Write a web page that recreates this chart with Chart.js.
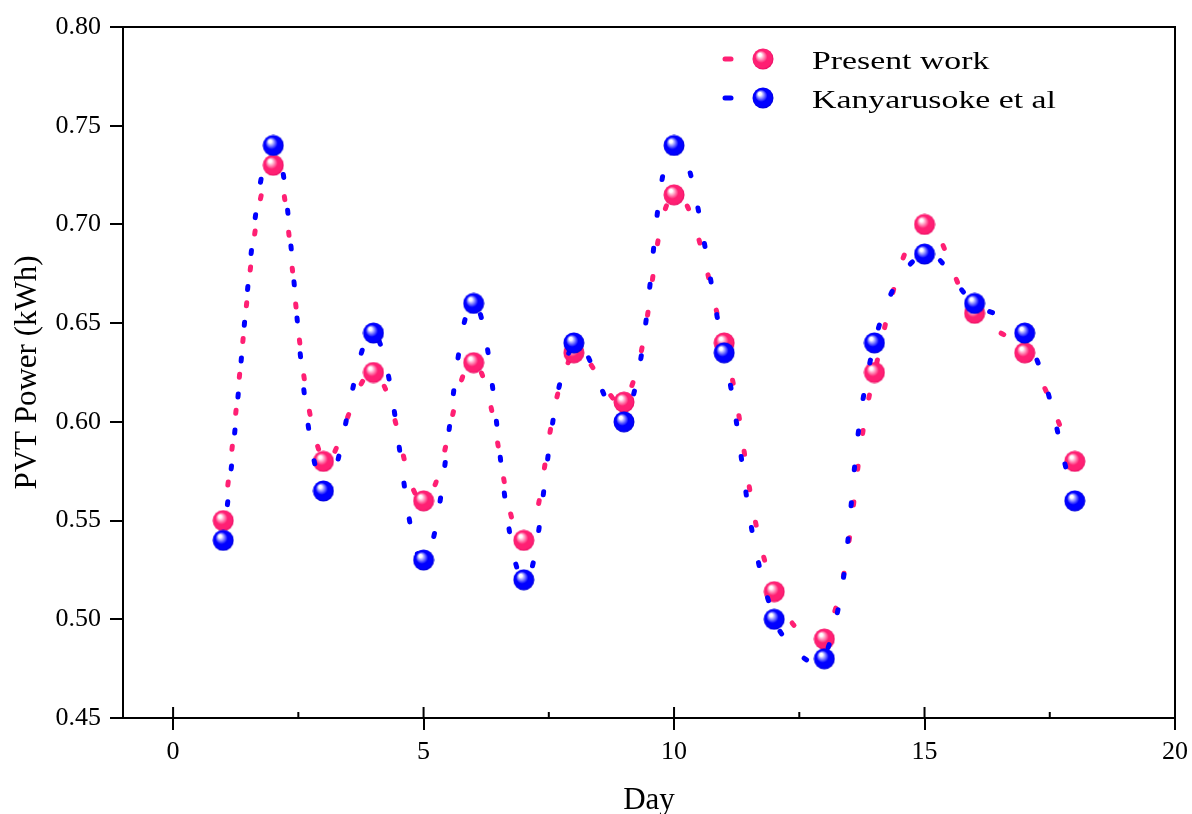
<!DOCTYPE html>
<html>
<head>
<meta charset="utf-8">
<script src="https://cdn.jsdelivr.net/npm/chart.js@4.4.1/dist/chart.umd.min.js"></script>
<style>
  html, body { margin: 0; padding: 0; background: #fff; }
  #wrap { width: 1192px; height: 814px; }
</style>
</head>
<body>
<div id="wrap"><canvas id="pvtChart" width="1192" height="814"></canvas></div>
<script>
// Daily PVT power, present work vs. Kanyarusoke et al
const days = [1, 2, 3, 4, 5, 6, 7, 8, 9, 10, 11, 12, 13, 14, 15, 16, 17, 18];
const presentWork = [0.55, 0.73, 0.58, 0.625, 0.56, 0.63, 0.54, 0.635, 0.61, 0.715, 0.64, 0.514, 0.49, 0.625, 0.70, 0.655, 0.635, 0.58];
const kanyarusoke = [0.54, 0.74, 0.565, 0.645, 0.53, 0.66, 0.52, 0.64, 0.60, 0.74, 0.635, 0.50, 0.48, 0.64, 0.685, 0.66, 0.645, 0.56];
const seriesNames = ["Present work", "Kanyarusoke et al"];

const xTicks = [0, 5, 10, 15, 20];
const xMinorTicks = [2.5, 7.5, 12.5, 17.5];
const yTicks = [0.45, 0.50, 0.55, 0.60, 0.65, 0.70, 0.75, 0.80];

const pink = "#ff1f73";
const blue = "#0000ff";
const serif = "'Liberation Serif', 'Times New Roman', serif";

// shaded ball marker
function makeBall(base, light, dark, size) {
  const c = document.createElement("canvas");
  c.width = size;
  c.height = size;
  const g = c.getContext("2d");
  const r = size / 2;
  const grad = g.createRadialGradient(r * 0.66, r * 0.56, 0, r, r, r);
  grad.addColorStop(0, "#ffffff");
  grad.addColorStop(0.14, "#ffffff");
  grad.addColorStop(0.32, light);
  grad.addColorStop(0.55, base);
  grad.addColorStop(0.85, base);
  grad.addColorStop(1, dark);
  g.fillStyle = grad;
  g.beginPath();
  g.arc(r, r, r - 0.5, 0, Math.PI * 2);
  g.fill();
  return c;
}

const pinkBall = makeBall(pink, "#ff9ac0", "#e0065e", 22);
const blueBall = makeBall(blue, "#8c8cff", "#0000c8", 22);

function toPoints(values) {
  return days.map((d, i) => ({ x: d, y: values[i] }));
}

// top/right frame and the inner parts of the x ticks
const framePlugin = {
  id: "frame",
  afterDraw(chart) {
    const { ctx, chartArea: a, scales: { x } } = chart;
    ctx.save();
    ctx.strokeStyle = "#000";
    ctx.lineWidth = 2;
    ctx.beginPath();
    ctx.moveTo(a.left, a.top);
    ctx.lineTo(a.right, a.top);
    ctx.lineTo(a.right, a.bottom);
    xTicks.forEach(v => {
      const px = x.getPixelForValue(v);
      ctx.moveTo(px, a.bottom);
      ctx.lineTo(px, a.bottom - 11);
    });
    xMinorTicks.forEach(v => {
      const px = x.getPixelForValue(v);
      ctx.moveTo(px, a.bottom);
      ctx.lineTo(px, a.bottom - 6);
    });
    ctx.stroke();
    ctx.restore();
  }
};

// legend: short dash + ball + wide serif label
const legendPlugin = {
  id: "ballLegend",
  afterDraw(chart) {
    const ctx = chart.ctx;
    const rows = [59, 98];
    chart.data.datasets.forEach((ds, i) => {
      const y = rows[i];
      ctx.save();
      ctx.strokeStyle = ds.borderColor;
      ctx.lineWidth = 5;
      ctx.lineCap = "round";
      ctx.beginPath();
      ctx.moveTo(725, y);
      ctx.lineTo(731, y);
      ctx.stroke();
      const img = ds.pointStyle;
      ctx.drawImage(img, 763 - img.width / 2, y - img.height / 2);
      ctx.translate(812, y + 10);
      ctx.scale(1.3, 1);
      ctx.font = "26px " + serif;
      ctx.fillStyle = "#000";
      ctx.textBaseline = "alphabetic";
      ctx.fillText(ds.label, 0, 0);
      ctx.restore();
    });
  }
};

const ctx = document.getElementById("pvtChart").getContext("2d");

const pvtChart = new Chart(ctx, {
  type: "line",
  data: {
    datasets: [
      {
        label: seriesNames[0],
        data: toPoints(presentWork),
        borderColor: pink,
        backgroundColor: pink,
        borderWidth: 5,
        borderDash: [3, 33],
        borderCapStyle: "round",
        tension: 0.4,
        pointStyle: pinkBall,
        pointRadius: 11,
        order: 1
      },
      {
        label: seriesNames[1],
        data: toPoints(kanyarusoke),
        borderColor: blue,
        backgroundColor: blue,
        borderWidth: 5,
        borderDash: [3, 33],
        borderCapStyle: "round",
        tension: 0.4,
        pointStyle: blueBall,
        pointRadius: 11,
        order: 0
      }
    ]
  },
  options: {
    responsive: false,
    animation: false,
    events: [],
    layout: { padding: { top: 27, right: 17, left: 0, bottom: 0 } },
    plugins: {
      legend: { display: false },
      tooltip: { enabled: false }
    },
    scales: {
      x: {
        type: "linear",
        min: -1,
        max: 20,
        afterBuildTicks: s => { s.ticks = xTicks.map(v => ({ value: v })); },
        afterFit: s => {
          s.height = 96;
          s.paddingLeft = 0;
          s.paddingRight = 0;
        },
        grid: { drawOnChartArea: false, tickLength: 12, color: "#000", lineWidth: 2 },
        border: { color: "#000", width: 2 },
        ticks: { color: "#000", font: { family: serif, size: 26 }, padding: 7, maxRotation: 0 },
        title: { display: true, text: "Day", color: "#000", font: { family: serif, size: 31 }, padding: { top: 0, bottom: -5 } }
      },
      y: {
        min: 0.45,
        max: 0.80,
        afterBuildTicks: s => { s.ticks = yTicks.map(v => ({ value: v })); },
        afterFit: s => {
          s.width = 123;
          s.paddingTop = 0;
          s.paddingBottom = 0;
        },
        grid: { drawOnChartArea: false, tickLength: 13, color: "#000", lineWidth: 2 },
        border: { color: "#000", width: 2 },
        ticks: { color: "#000", font: { family: serif, size: 26 }, padding: 9, callback: v => v.toFixed(2) },
        title: { display: true, text: "PVT Power (kWh)", color: "#000", font: { family: serif, size: 31 }, padding: { top: 9, bottom: 0 } }
      }
    }
  },
  plugins: [framePlugin, legendPlugin]
});
</script>
</body>
</html>
